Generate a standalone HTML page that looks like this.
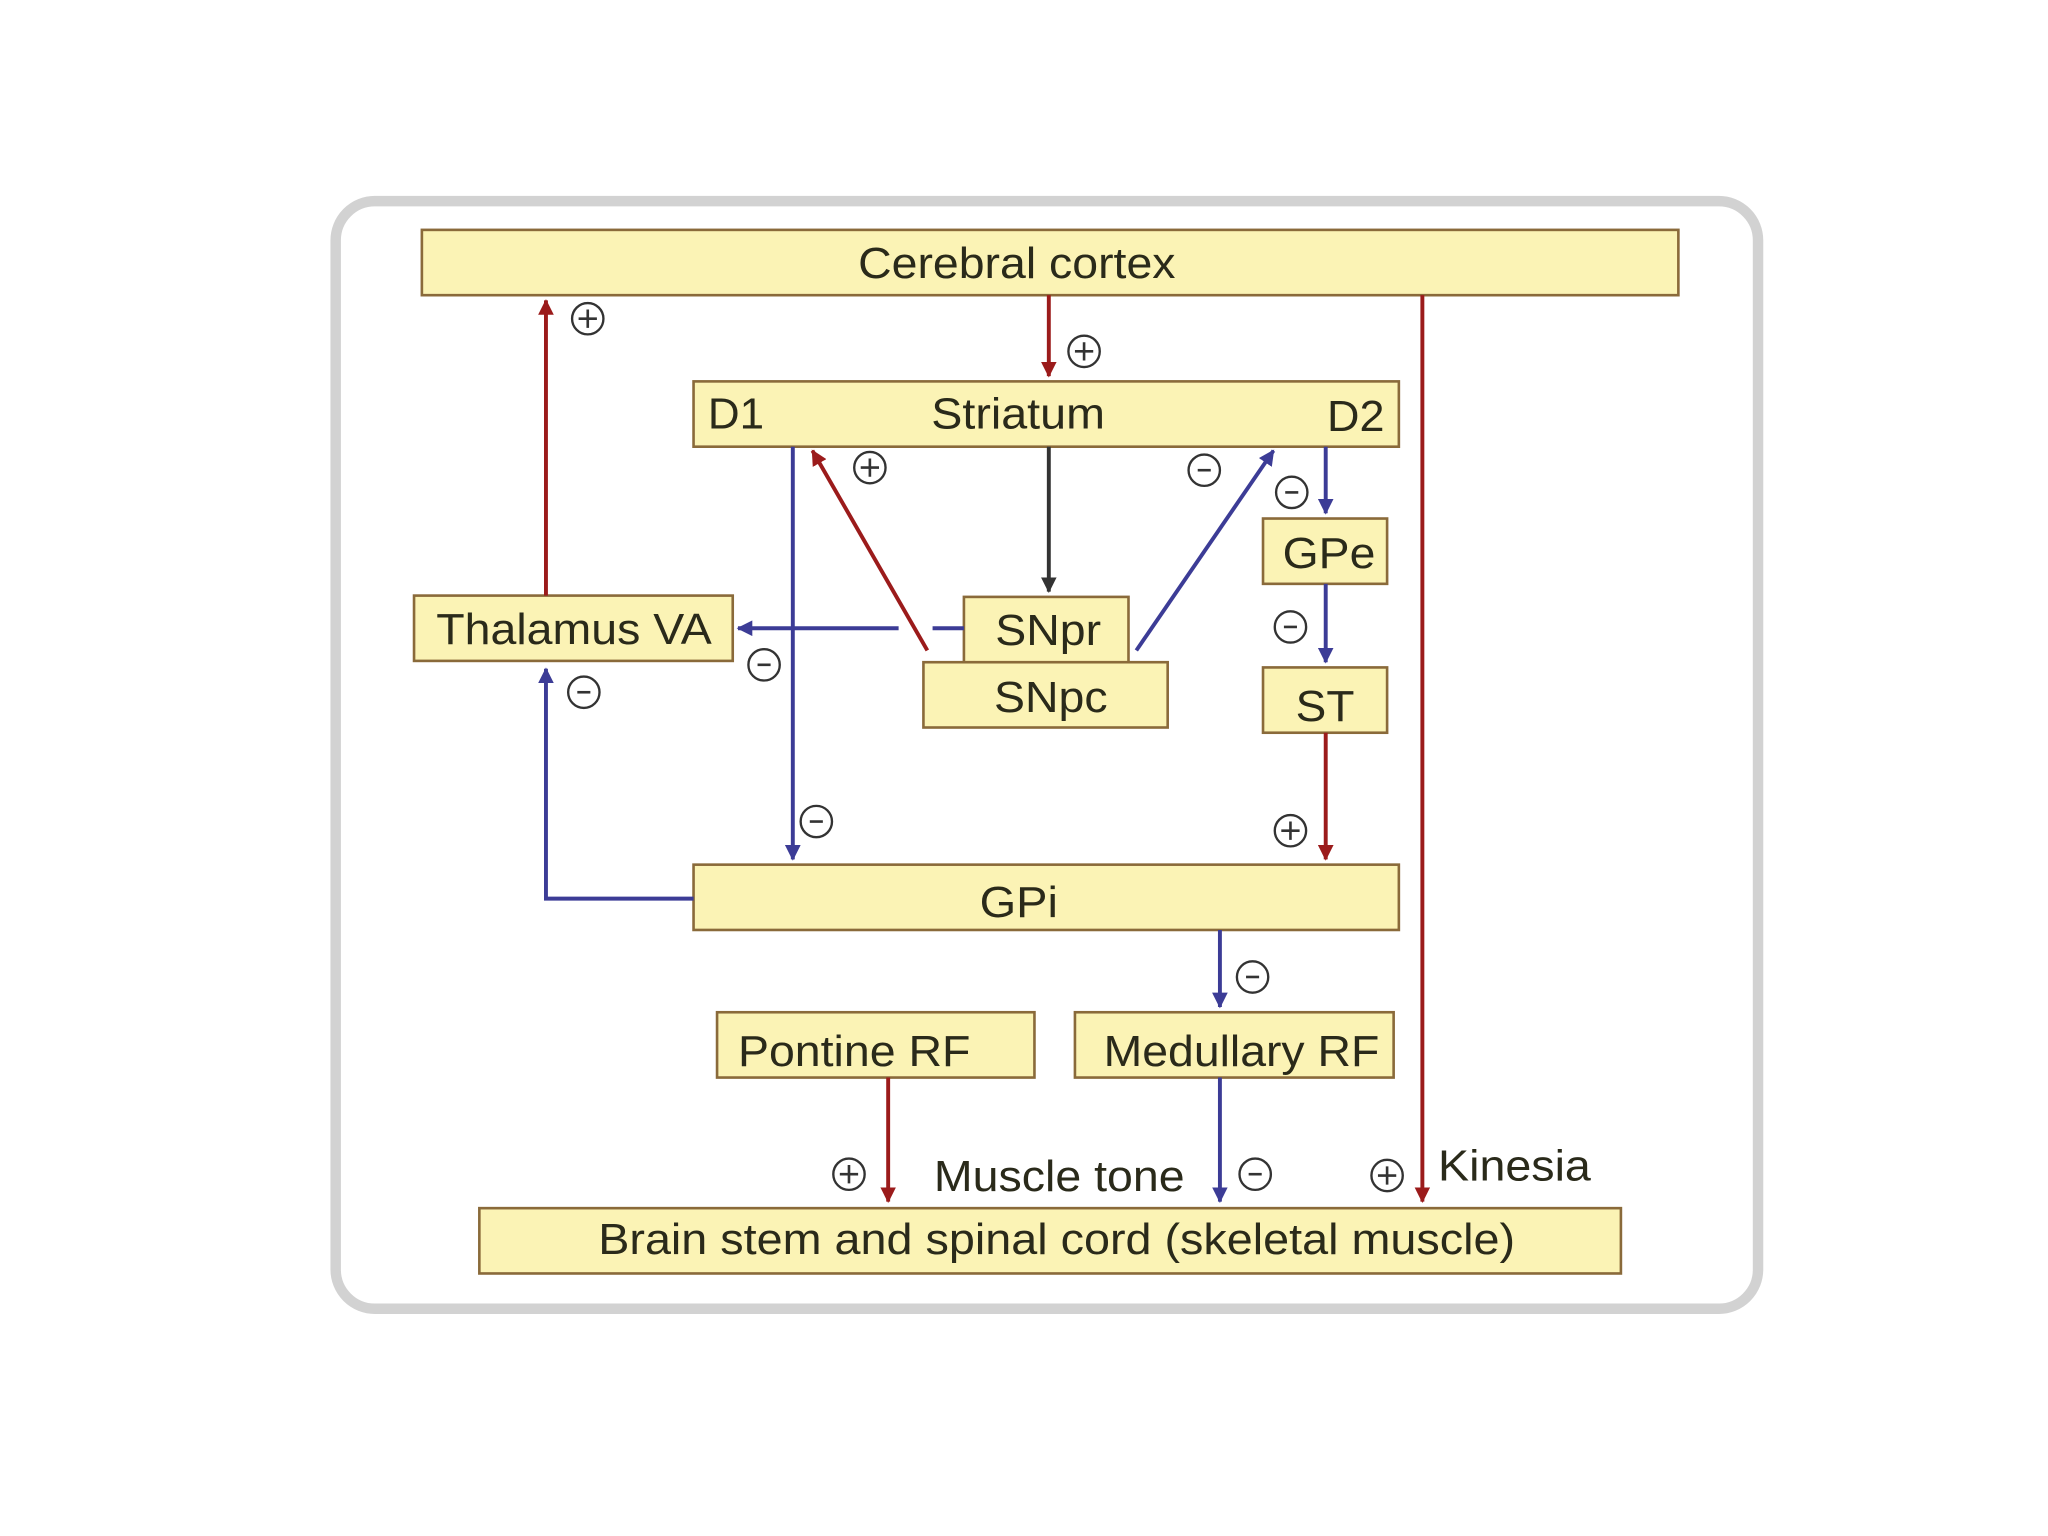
<!DOCTYPE html>
<html><head><meta charset="utf-8"><style>
html,body{margin:0;padding:0;background:#fff;width:2048px;height:1536px;overflow:hidden}
svg{display:block}
text{font-family:"Liberation Sans",sans-serif;fill:#2a2a1a}
</style></head><body>
<svg width="2048" height="1536" viewBox="0 0 1568 1176" xmlns="http://www.w3.org/2000/svg">
<defs>
<marker id="ar" markerWidth="12" markerHeight="12" refX="11" refY="6" orient="auto" markerUnits="userSpaceOnUse"><path d="M0,0 L12,6 L0,12 Z" fill="#9b1b1b"/></marker>
<marker id="ab" markerWidth="12" markerHeight="12" refX="11" refY="6" orient="auto" markerUnits="userSpaceOnUse"><path d="M0,0 L12,6 L0,12 Z" fill="#3c3c96"/></marker>
<marker id="ak" markerWidth="12" markerHeight="12" refX="11" refY="6" orient="auto" markerUnits="userSpaceOnUse"><path d="M0,0 L12,6 L0,12 Z" fill="#333"/></marker>
<g id="p"><circle r="12" fill="#fff" stroke="#333" stroke-width="1.8"/><path d="M-7,0H7M0,-7V7" stroke="#333" stroke-width="2"/></g>
<g id="m"><circle r="12" fill="#fff" stroke="#333" stroke-width="1.8"/><path d="M-5,0H5" stroke="#333" stroke-width="2"/></g>
</defs>
<rect x="257" y="154" width="1089" height="848" rx="30" fill="#fff" stroke="#d2d2d2" stroke-width="8"/>
<g fill="#fbf3b5" stroke="#8a6a3a" stroke-width="2">
<rect x="323" y="176" width="962" height="50"/>
<rect x="531" y="292" width="540" height="50"/>
<rect x="967" y="397" width="95" height="50"/>
<rect x="317" y="456" width="244" height="50"/>
<rect x="707" y="507" width="187" height="50"/>
<rect x="738" y="457" width="126" height="50"/>
<rect x="967" y="511" width="95" height="50"/>
<rect x="531" y="662" width="540" height="50"/>
<rect x="549" y="775" width="243" height="50"/>
<rect x="823" y="775" width="244" height="50"/>
<rect x="367" y="925" width="874" height="50"/>
</g>
<g font-size="33" lengthAdjust="spacingAndGlyphs">
<text x="657" y="213" textLength="243" lengthAdjust="spacingAndGlyphs">Cerebral cortex</text>
<text x="542" y="328" textLength="43" lengthAdjust="spacingAndGlyphs">D1</text>
<text x="713" y="328" textLength="133" lengthAdjust="spacingAndGlyphs">Striatum</text>
<text x="1016" y="330" textLength="44" lengthAdjust="spacingAndGlyphs">D2</text>
<text x="982" y="435" textLength="71" lengthAdjust="spacingAndGlyphs">GPe</text>
<text x="334" y="493" textLength="211" lengthAdjust="spacingAndGlyphs">Thalamus VA</text>
<text x="762" y="494" textLength="81" lengthAdjust="spacingAndGlyphs">SNpr</text>
<text x="761" y="545" textLength="87" lengthAdjust="spacingAndGlyphs">SNpc</text>
<text x="992" y="552" textLength="45" lengthAdjust="spacingAndGlyphs">ST</text>
<text x="750" y="702" textLength="60" lengthAdjust="spacingAndGlyphs">GPi</text>
<text x="565" y="816" textLength="178" lengthAdjust="spacingAndGlyphs">Pontine RF</text>
<text x="845" y="816" textLength="211" lengthAdjust="spacingAndGlyphs">Medullary RF</text>
<text x="458" y="960" textLength="702" lengthAdjust="spacingAndGlyphs">Brain stem and spinal cord (skeletal muscle)</text>
<text x="715" y="912" textLength="192" lengthAdjust="spacingAndGlyphs">Muscle tone</text>
<text x="1101" y="904" textLength="117" lengthAdjust="spacingAndGlyphs">Kinesia</text>
</g>
<g stroke-width="3" fill="none">
<path d="M803,226V288" stroke="#9b1b1b" marker-end="url(#ar)"/>
<path d="M418,456V230" stroke="#9b1b1b" marker-end="url(#ar)"/>
<path d="M1089,226V920" stroke="#9b1b1b" marker-end="url(#ar)"/>
<path d="M607,342V658" stroke="#3c3c96" marker-end="url(#ab)"/>
<path d="M710,498L622,345" stroke="#9b1b1b" marker-end="url(#ar)"/>
<path d="M803,342V453" stroke="#333" marker-end="url(#ak)"/>
<path d="M870,498L975,345" stroke="#3c3c96" marker-end="url(#ab)"/>
<path d="M1015,342V393" stroke="#3c3c96" marker-end="url(#ab)"/>
<path d="M1015,447V507" stroke="#3c3c96" marker-end="url(#ab)"/>
<path d="M1015,561V658" stroke="#9b1b1b" marker-end="url(#ar)"/>
<path d="M688,481H565" stroke="#3c3c96" marker-end="url(#ab)"/>
<path d="M714,481H738" stroke="#3c3c96"/>
<path d="M531,688H418V512" stroke="#3c3c96" marker-end="url(#ab)"/>
<path d="M934,712V771" stroke="#3c3c96" marker-end="url(#ab)"/>
<path d="M680,825V920" stroke="#9b1b1b" marker-end="url(#ar)"/>
<path d="M934,825V920" stroke="#3c3c96" marker-end="url(#ab)"/>
</g>
<use href="#p" x="830" y="269"/>
<use href="#p" x="450" y="244"/>
<use href="#p" x="666" y="358"/>
<use href="#m" x="922" y="360"/>
<use href="#m" x="989" y="377"/>
<use href="#m" x="988" y="480"/>
<use href="#m" x="585" y="509"/>
<use href="#m" x="447" y="530"/>
<use href="#m" x="625" y="629"/>
<use href="#p" x="988" y="636"/>
<use href="#m" x="959" y="748"/>
<use href="#p" x="650" y="899"/>
<use href="#m" x="961" y="899"/>
<use href="#p" x="1062" y="900"/>
</svg>
</body></html>
